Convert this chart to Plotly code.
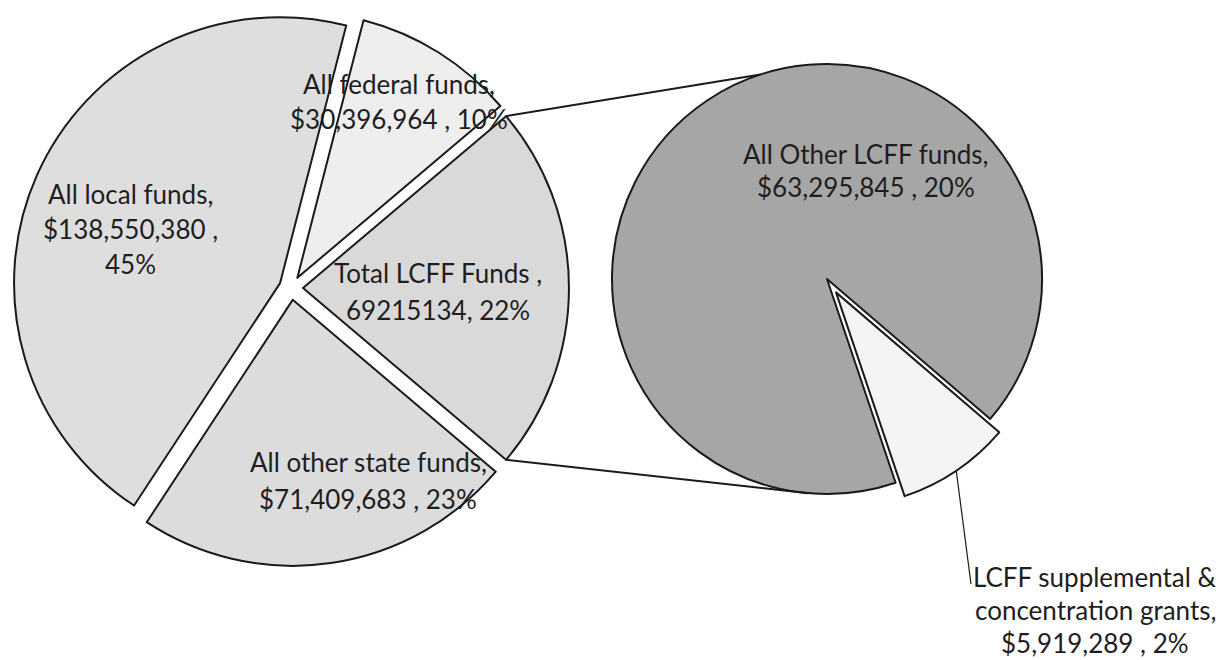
import math
import plotly.graph_objects as go

# ---- data ----
main_labels = ["Total LCFF Funds", "All federal funds", "All local funds", "All other state funds"]
main_values = [69215134, 30396964, 138550380, 71409683]
main_text = [
    ["Total LCFF Funds ,", "69215134, 22%"],
    ["All federal funds,", "$30,396,964 , 10%"],
    ["All local funds,", "$138,550,380 ,", "45%"],
    ["All other state funds,", "$71,409,683 , 23%"],
]
sub_labels = ["All Other LCFF funds", "LCFF supplemental & concentration grants"]
sub_values = [63295845, 5919289]
sub_text = [
    ["All Other LCFF funds,", "$63,295,845 , 20%"],
    ["LCFF supplemental &", "concentration grants,", "$5,919,289 , 2%"],
]

# ---- layout geometry (pixels) ----
W, H = 1223, 660
L_cx, L_cy, L_R, L_pull = 291, 288, 266, 0.045
R_cx, R_cy, R_R, R_pull = 827, 279, 215, 0.075
small_mid = -56.0  # math degrees

def dom(cx, cy, R, pull):
    half = R * (1 + pull)
    return dict(x=[(cx - half) / W, (cx + half) / W],
                y=[1 - (cy + half) / H, 1 - (cy - half) / H])

def P(px, py):
    return px / W, 1 - py / H

total = sum(main_values)
lcff_span = 360 * main_values[0] / total
# counterclockwise: first slice occupies clock angles [rotation, rotation + span]
rot_left = 90 - lcff_span / 2

small_span = 360 * sub_values[1] / sum(sub_values)
# last slice (small) occupies clock angles [rotation - span, rotation]
rot_right = 90 - (small_mid - small_span / 2)

fig = go.Figure()
fig.add_trace(go.Pie(
    labels=main_labels, values=main_values, sort=False, direction="counterclockwise",
    rotation=rot_left, pull=[L_pull] * 4, textinfo="none", hoverinfo="label+value+percent",
    marker=dict(colors=["#d9d9d9", "#eeeeee", "#dedede", "#dcdcdc"],
                line=dict(color="#1a1a1a", width=2)),
    domain=dom(L_cx, L_cy, L_R, L_pull), showlegend=False,
))
fig.add_trace(go.Pie(
    labels=sub_labels, values=sub_values, sort=False, direction="counterclockwise",
    rotation=rot_right, pull=[0, R_pull], textinfo="none", hoverinfo="label+value+percent",
    marker=dict(colors=["#a6a6a6", "#f4f4f4"], line=dict(color="#1a1a1a", width=2)),
    domain=dom(R_cx, R_cy, R_R, R_pull), showlegend=False,
))

shapes = []
# connector lines from split slice corners to the secondary pie
off = L_pull * L_R
a = math.radians(lcff_span / 2)
top_l = (L_cx + off + L_R * math.cos(a), L_cy - L_R * math.sin(a))
bot_l = (L_cx + off + L_R * math.cos(a), L_cy + L_R * math.sin(a))
top_r = (R_cx + R_R * math.cos(math.radians(108)), R_cy - R_R * math.sin(math.radians(108)))
bot_r = (R_cx + R_R * math.cos(math.radians(-95)), R_cy - R_R * math.sin(math.radians(-95)))
for p0, p1 in [(top_l, top_r), (bot_l, bot_r)]:
    x0, y0 = P(*p0); x1, y1 = P(*p1)
    shapes.append(dict(type="line", xref="paper", yref="paper", x0=x0, y0=y0, x1=x1, y1=y1,
                       line=dict(color="#1a1a1a", width=2)))
# leader line for small slice label
m = math.radians(small_mid)
sc = (R_cx + R_pull * R_R * math.cos(m), R_cy - R_pull * R_R * math.sin(m))
lead0 = (sc[0] + R_R * math.cos(m), sc[1] - R_R * math.sin(m))
lead1 = (971, 584)
x0, y0 = P(*lead0); x1, y1 = P(*lead1)
shapes.append(dict(type="line", xref="paper", yref="paper", x0=x0, y0=y0, x1=x1, y1=y1,
                   line=dict(color="#1a1a1a", width=1.2)))

# label positions (pixel centers of first line) and line spacing
label_pos = [
    (438, 273, 37, main_text[0]),
    (399, 84, 35, main_text[1]),
    (130, 194, 35, main_text[2]),
    (368, 462, 37, main_text[3]),
    (866, 154, 33, sub_text[0]),
    (1095, 577, 33, sub_text[1]),
]
ann = []
for cx, cy, sp, lines in label_pos:
    for i, t in enumerate(lines):
        x, y = P(cx, cy + i * sp)
        ann.append(dict(text=t, x=x, y=y, xref="paper", yref="paper", showarrow=False,
                        xanchor="center", yanchor="middle",
                        font=dict(family="Lato", size=26, color="#1e1e1e")))

fig.update_layout(
    width=W, height=H, margin=dict(l=0, r=0, t=0, b=0),
    paper_bgcolor="white", plot_bgcolor="white",
    shapes=shapes, annotations=ann,
)
fig.write_html("out.html", config={"displayModeBar": False},
               post_script="document.body.style.margin='0';document.body.style.overflow='hidden';")
